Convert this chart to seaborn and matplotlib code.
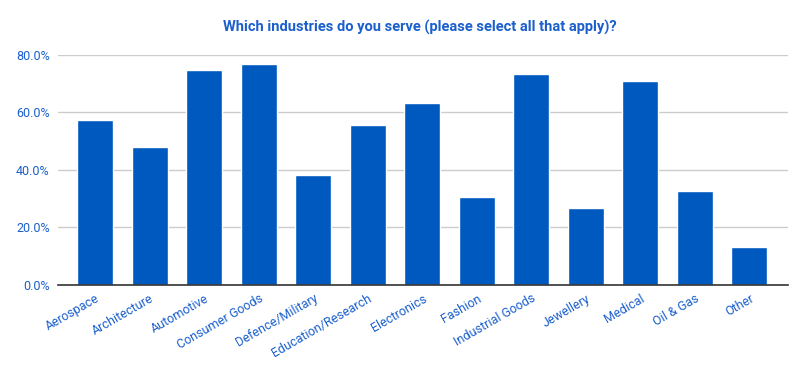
import matplotlib
matplotlib.use('Agg')
import matplotlib.pyplot as plt
import seaborn as sns
import pandas as pd
from matplotlib.ticker import PercentFormatter

# Survey results
industries = ['Aerospace', 'Architecture', 'Automotive', 'Consumer Goods', 'Defence/Military',
              'Education/Research', 'Electronics', 'Fashion', 'Industrial Goods', 'Jewellery',
              'Medical', 'Oil & Gas', 'Other']
share = [57.4, 48.0, 74.8, 76.9, 38.3, 55.7, 63.3, 30.6, 73.4, 26.8, 71.0, 32.7, 13.2]

df = pd.DataFrame({'industry': industries, 'share': share})

sns.set_style('white')
plt.rcParams['font.family'] = ['Roboto', 'DejaVu Sans']

blue = '#0059be'
text_blue = '#1a5fcc'

fig = plt.figure(figsize=(8.07, 3.71), dpi=100)
ax = fig.add_axes([0.072, 0.232, 0.904, 0.62])

sns.barplot(data=df, x='industry', y='share', color=blue, width=0.66, saturation=1, ax=ax)

ax.set_ylim(0, 80)
ax.set_yticks([0, 20, 40, 60, 80])
ax.yaxis.set_major_formatter(PercentFormatter(decimals=1))
ax.yaxis.grid(True, color='#cccccc', linewidth=1)
ax.set_axisbelow(True)
for s in ['top', 'right', 'left']:
    ax.spines[s].set_visible(False)
ax.spines['bottom'].set_color('#333333')
ax.spines['bottom'].set_linewidth(1.2)
ax.set_xlim(-0.68, len(industries) - 0.3)

ax.set_xlabel('')
ax.set_ylabel('')
ax.tick_params(axis='both', length=0, labelcolor=text_blue, labelsize=9)
ax.tick_params(axis='y', pad=6)
ax.tick_params(axis='x', pad=5)
plt.setp(ax.get_xticklabels(), rotation=30, ha='right', rotation_mode='anchor')

fig.suptitle('Which industries do you serve (please select all that apply)?',
             x=0.52, y=0.945, fontsize=10.5, fontweight='bold', color=text_blue)

fig.savefig('out.png', dpi=100, facecolor='white')
